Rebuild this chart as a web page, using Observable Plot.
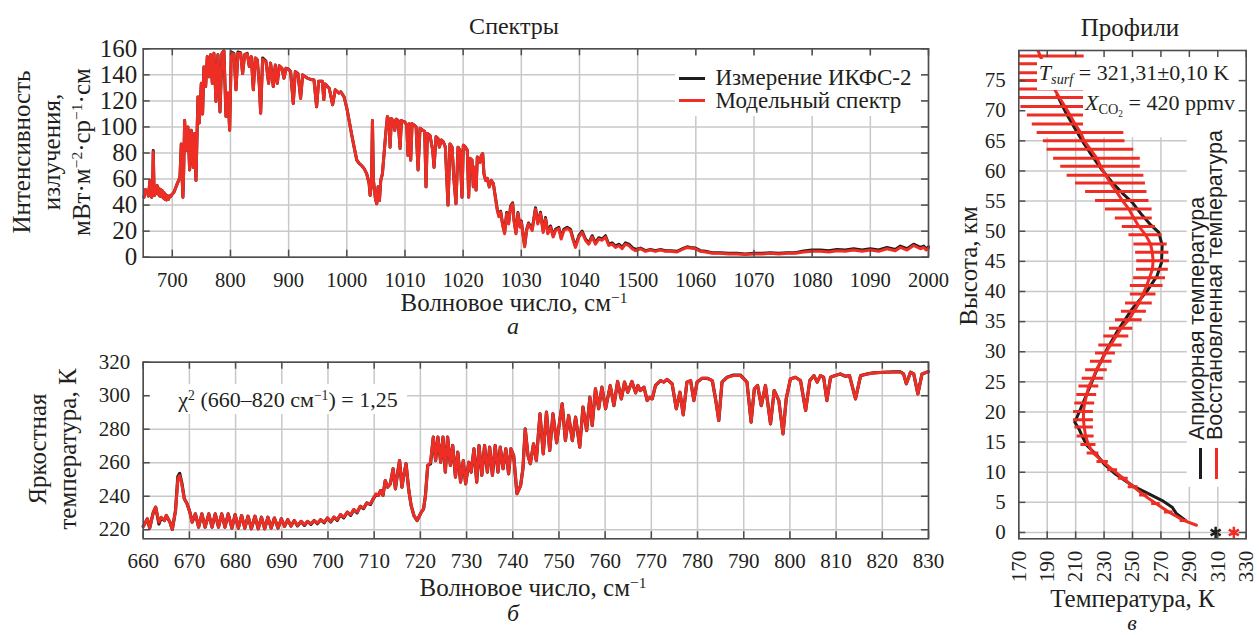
<!DOCTYPE html>
<html lang="ru">
<head>
<meta charset="utf-8">
<script src="https://cdn.jsdelivr.net/npm/d3@7"></script>
<script src="https://cdn.jsdelivr.net/npm/@observablehq/plot@0.6"></script>
<style>
html,body{margin:0;padding:0;background:#fff;}
#root{position:relative;width:1259px;height:635px;overflow:hidden;background:#fff;font-family:"Liberation Serif","Times New Roman",serif;color:#231f20;}
#root svg{position:absolute;}
.t{position:absolute;white-space:nowrap;line-height:1;}
.t sup{font-size:0.62em;position:relative;top:-0.5em;vertical-align:baseline;line-height:0;}
.t sub{font-size:0.65em;position:relative;top:0.32em;vertical-align:baseline;line-height:0;}
.box{position:absolute;background:#fff;}
.sw{position:absolute;}
</style>
</head>
<body>
<div id="root"></div>
<script>
// ---------------- Panel а: spectra ----------------
const spectrumWavenumber = [
651.3,654,657,659,661.6,662.5,664.5,666,667.3,668.5,
669.6,671,672.5,674,675.5,677,678.5,680,681.5,683,
684.5,686,687.5,689,690.5,692,693.5,695,697,699,
701,703,705.5,708.6,711,713.2,715.5,716.8,718.3,719.6,
721.2,722.8,724.6,726.9,729.8,732.7,736.1,738.4,740.7,744.1,
746.4,749.9,752.1,754.4,757.3,760.2,763,765.9,768.8,771.6,
775.1,778.5,782,785.4,788.8,792.3,795.7,798.6,801.4,806,
809.5,812.9,817.5,820.9,824.4,828.9,832.4,835.8,839.3,842.7,
846.1,849.6,851.9,855.3,861,865.6,869,873.6,877.1,880.5,
884,888.5,892,895.4,899.4,903.4,908,911.5,916,920.6,
924.1,928.7,932.1,937.8,943.6,948.1,951.6,957.9,960.5,962.5,
964.2,969.9,975.6,980.2,986.5,989.7,995.4,
1000,1004,1008,1012.6,1017.2,1021.2,1025.2,1029.8,1034.3,1038.4,
1040.1,1042.4,1044.1,1045.8,1049.2,1051.5,1053.8,1056.1,1058.4,1061.2,
1064.1,1067,1069.8,1072.7,1074.4,1076.7,1080.1,1082.4,1084.7,1088.2,
1091.6,1093.9,1097.3,1099.6,1103,1105.3,1107.6,1109.9,1112.2,1115.6,
1119.1,1122.5,1125.9,1130.5,1133.9,1136.2,1138.5,1143.1,1147.7,1150,
1153.4,1156.8,1159.1,1162.6,1166,1169.4,1174,1177.4,1180.9,1184.3,
1187.7,1191.2,1194.6,1198,1200.3,1203.8,1207.2,1209.5,1211.8,1215.2,
1217.5,1219.8,1222.2,1224.4,1229,1231.3,1233.6,1235.8,1238.7,1241.6,
1245,1248.4,1251.9,1255.3,1258.7,1261.6,1264.5,1267.9,1271.3,1274.8,
1278.2,1281.6,1285.1,1287.4,1290.8,1294.2,1297.7,1300,1303.4,1305.7,
1309.2,1312.5,
1318.7,1324.4,1328.4,1333,1337.6,1341.6,1345.6,1350.2,1354.8,1358.8,
1364.5,1368.5,1373.1,1378.8,1384.5,1389.1,1393.1,1398.9,1404.6,1410.3,
1416,1421.8,1427.5,1433.2,1438.9,1444.7,1450.4,1456.1,1461.9,1467.6,
1473.3,1479,1484.8,1490.5,1496.2,1504.8,1513.4,1522,1530.6,1539.2,
1547.8,1556.3,1567.8,1579.3,1585,1590.7,1599.3,1607.9,1616.5,1628,
1642.2,1656.6,1670.9,1685.2,1699.5,1713.8,1728.2,1742.5,1756.8,1771.1,
1785.4,1799.7,1814.1,1828.4,1842.7,1857,1871.3,1885.6,1900,1914.3,
1928.6,1942.9,1951.5,1963,1974.4,1985.9,1992,1996,2000
];
// Model spectrum (red), mW·m^-2·sr^-1·cm
const spectrumModel = [
46,52,50,47,59,50,46,48,81,55,
47.5,54,49,55,48.5,53,47,52,46.5,51,
45.5,49.5,44.5,48,44,47,44.5,47,46.5,48,
49,50,53,56.5,59,61.6,87,62,46,66,
105,90,82,100,67,97.5,69,95,59,123,
103,133.5,110,146,131,154,138.5,155.5,133.5,156.5,
119.5,155.5,111.5,156.5,158,108,126,97.5,156.5,156,
128.5,156.5,156.5,141,155.5,156,146.5,154,128.5,153,
151.5,132.5,110.5,152,150,133.5,149,131,147.5,133.5,
147,145,137.5,145,144,142.5,118,142.5,141,122,
140,138.5,137.5,136.5,136,115.5,135,135,121,133,
132.5,129.5,117,128.5,126,127,123,
114.5,105,95,84.5,74.5,72,70.5,68,64,56.5,
47.5,56.5,105,59,45,41,54,43.5,59,64,
79.5,95,108,105,84.5,106.5,104,97.5,106,105,
83.5,105,104,104,101.5,78,102.5,74.5,102.5,101.5,
100,67,99,97.5,96.5,54,95,93.5,82,69,
92.5,91,84.5,90,88.5,84.5,40,87,84.5,59,
41,84.5,82,46,86,84.5,82,46,76,74.5,
54,69,51.5,77,73,78,79.5,64,59,60.5,
54,59,56.5,46,36,31,34.5,24.5,18,33.5,
25.5,38.5,41,28,18,33.5,23,27,15.5,8,
20.5,25.5,
20.5,37,25.5,33.5,19,29.5,18,23,15.5,20.5,
22,14,20.5,22,20.5,13,7.5,15.5,19,13,
10,15.5,10,14,13,15.5,9,10,7.5,9,
6.5,10,9,6.5,5,6.5,4.5,5.5,4.5,5.5,
4.5,4.5,4,6.5,7.5,7,6.5,4.5,4,3,
3,2.5,2.5,2,2.5,2.5,3,2.5,3,3,
4,4.5,4.5,4,5,4.5,5.5,4.5,5.5,4.5,
6.5,5,7.5,5.5,9,6.5,7.5,5.5,7
];
// IKFS-2 measurement (black)
const spectrumMeasured = [
46,52,50,47,59,50,46,48,82,55,
47.5,54,49,55,48.5,53,47,52,46.5,51,
45.5,49.5,44.5,48,44,47,44.5,47,46.5,48,
49,50,53,56.5,59,61.6,87,62,46,66,
105,90,82,100,67,97.5,69,95,59,123,
103,133.5,110,146,131,154,138.5,155.5,133.5,156.5,
119.5,155.5,111.5,156.5,158.5,108,126,97.5,157.5,156.5,
128.5,157.5,157,141,155.5,156.5,146.5,154,128.5,153,
151.5,132.5,110.5,153,150.5,133.5,149,131,147.5,133.5,
147,145,137.5,145,144.5,142.5,118,142.5,141,122,
140,138.5,137.5,136.5,136,115.5,135,135,121,133,
132.5,129.5,117,128.5,126,127,123,
114.5,105,95,84.5,74.5,72,70.5,68,64,56.5,
47.5,56.5,105,59,45,41,54,43.5,59,64,
79.5,95,108,105,84.5,106.5,104,97.5,106,105,
83.5,105,104,104,101.5,78,102.5,74.5,102.5,101.5,
100,67,99,97.5,96.5,54,95,93.5,82,69,
92.5,91,84.5,90,88.5,84.5,40,87,84.5,59,
41,84.5,82,46,86,84.5,82,46,76,74.5,
54,69,51.5,77,73,78,79.5,64,59,60.5,
54,59,56.5,46.8,36.8,31.8,35.3,25.3,18.8,34.3,
26.3,39.3,41.8,28.8,18.8,34.3,23.8,27.8,16.3,8.8,
21.3,26.3,
21.5,38,26.5,34.5,20,30.5,19,24,16.5,21.5,
23,15,21.5,23,21.5,14,8.5,16.5,20,14,
11,16.5,11,15,14,16.5,10,11,8.5,10,
7.5,11,10,7.5,6,7,5,6,5,6,
5,5,4.5,7,8,7.5,7,5,4.5,3.5,
3.5,3,3,2.5,3,3,3.5,3,3.5,3.5,
4.8,5.5,5.5,5,6,5.5,6.5,5.5,6.5,5.5,
7.5,6,8.5,6.5,10,7.5,8.5,6.5,8
];
const spectrumTickValues = [700,800,900,1000,1100,1200,1300,1400,1500,1600,1700,1800,1900,2000];
const spectrumTickLabels = ["700","800","900","1000","1010","1020","1030","1040","1500","1060","1070","1080","1090","2000"];
const spectrumIntensityTicks = [0,20,40,60,80,100,120,140,160];

// ---------------- Panel б: brightness temperature ----------------
const btWavenumber = [
660.0,660.9,661.4,662.2,662.7,663.4,663.9,664.6,665.0,665.8,
666.3,667.0,667.5,667.9,668.4,668.9,669.5,670.1,670.6,671.3,
672.0,672.7,673.4,674.2,674.9,675.6,676.3,677.0,677.7,678.4,
679.2,679.9,680.6,681.3,682.0,682.7,683.4,684.2,684.9,685.6,
686.3,687.0,687.7,688.4,689.2,689.9,690.6,691.3,692.0,692.7,
693.4,694.2,694.9,695.6,696.3,697.0,697.7,698.4,699.2,699.9,
700.6,701.3,702.0,702.7,703.4,704.2,704.9,705.6,706.3,707.0,
707.7,708.4,709.2,709.8,710.4,710.9,711.4,711.9,712.4,712.9,
713.5,714.1,714.6,715.1,715.5,716.0,716.4,716.9,717.5,718.0,
718.6,719.3,720.2,720.7,721.1,721.6,722.2,722.8,723.3,723.8,
724.4,724.9,725.4,725.9,726.5,727.0,727.6,728.1,728.7,729.3,
729.8,730.5,731.0,731.6,732.2,732.7,733.3,733.9,734.5,735.0,
735.6,736.2,736.8,737.3,737.9,738.5,739.1,739.6,740.2,740.9,
741.7,742.2,742.7,743.3,743.8,744.5,745.1,745.9,746.6,747.3,
748.0,748.7,749.5,750.7,751.4,752.1,752.9,753.6,754.5,755.2,
756.0,756.7,757.2,757.9,758.6,759.3,760.1,761.1,761.9,762.7,
763.5,764.2,764.9,765.8,766.6,767.1,767.6,768.4,769.1,769.7,
770.2,770.9,772.0,772.7,773.4,774.5,775.4,776.2,776.9,777.7,
778.5,779.2,779.9,781.0,782.1,783.2,783.9,784.6,785.3,786.4,
787.8,789.3,790.7,791.6,792.3,793.0,793.8,794.7,795.8,796.6,
797.6,798.5,799.2,800.1,801.2,802.3,803.4,804.3,805.2,805.9,
806.6,807.3,808.0,808.8,809.8,810.9,812.0,812.9,814.2,815.3,
816.7,818.1,820.3,822.5,823.9,824.6,825.2,826.1,826.8,827.7,
828.6,830.0
];
const btModel = [
222,226.5,221,230.5,233.5,224.5,227.5,225.5,228.5,224.5,
220.2,231.5,250.4,252.4,246.4,238.5,235.5,230.5,224.6,229.5,
221.6,229.5,221.6,229.5,221.6,229.5,221.6,229.5,221.6,229.5,
221.0,229.0,221.0,228.5,221.0,228.1,220.6,228.1,220.6,227.5,
220.6,227.5,221.0,227.0,221.0,226.5,222.0,226.0,222.2,225.5,
222.6,225.0,223.0,225.0,223.6,225.5,224.0,226.0,224.6,227.0,
225.0,227.5,226.0,229.0,227.5,230.5,229.0,232.0,230.5,234.0,
233.0,236.0,235.5,238.5,241.5,240.5,243.4,240.5,249.4,245.4,
247.4,256.4,244.4,254.4,261.3,245.4,252.4,259.4,243.4,234.5,
228.5,225.5,230.5,232.5,240.5,258.4,260.3,275.3,261.3,275.3,
260.3,275.3,254.4,275.3,258.4,270.3,251.4,266.3,248.4,261.3,
247.4,260.3,254.4,268.3,248.4,270.3,252.4,270.3,254.4,269.3,
252.4,270.3,254.4,269.3,256.4,268.3,253.4,268.3,264.3,241.5,
246.4,256.4,280.2,264.3,259.4,271.3,261.3,289.2,265.3,290.2,
267.3,289.2,271.9,295.2,273.2,288.2,273.2,287.2,269.3,293.2,
279.2,299.1,282.2,304.1,292.2,305.1,292.2,306.1,294.1,308.5,
298.1,308.1,302.1,308.5,301.7,306.1,303.1,305.1,297.1,299.1,
298.1,306.1,309.0,308.1,309.7,307.1,292.2,302.1,288.6,308.1,
309.0,297.1,308.1,310.4,310.4,309.0,298.1,285.2,308.1,311.0,
312.0,312.0,308.1,284.2,304.1,306.1,294.1,306.1,283.2,303.1,
297.1,277.2,298.1,310.0,311.0,309.0,291.2,309.0,312.0,308.1,
312.0,311.0,297.1,311.0,312.0,313.0,311.6,312.0,298.1,312.0,
313.0,313.6,314.0,314.0,314.0,313.0,307.1,314.0,313.0,301.1,
313.0,314.4
];
const btMeasured = [
222,226.5,221,230.5,233.5,223.5,227,225.5,228.5,224.5,
220.2,231.5,251.8,253.6,247.4,238.5,235.5,230.5,224.6,229.5,
221.6,229.5,221.6,229.5,221.6,229.5,221.6,229.5,221.6,229.5,
221.0,229.0,221.0,228.5,221.0,228.1,220.6,228.1,220.6,227.5,
220.6,227.5,221.0,227.0,221.0,226.5,222.0,226.0,222.2,225.5,
222.3,225.0,222.6,225.0,223.2,225.5,223.6,226.0,224.2,227.0,
224.6,227.5,225.6,229.0,227.1,230.5,228.6,232.0,230.1,234.0,
232.6,236.0,235.1,238.5,241.0,240.5,243.4,240.5,249.4,245.4,
247.4,256.4,244.4,254.4,261.3,245.4,252.4,259.4,243.4,234.5,
228.5,225.5,230.5,232.5,240.5,258.4,259.3,275.3,261.3,275.3,
260.3,275.3,254.4,275.3,258.4,270.3,251.4,266.3,248.4,261.3,
247.4,260.3,254.4,268.3,248.4,270.3,252.4,270.3,254.4,269.3,
252.4,270.3,254.4,269.3,256.4,268.3,253.4,268.3,264.3,241.5,
246.4,256.4,280.2,264.3,259.4,271.3,261.3,289.2,265.3,290.2,
267.3,289.2,271.9,295.2,273.2,288.2,273.2,287.2,269.3,293.2,
279.2,299.1,282.2,304.1,292.2,305.1,292.2,306.1,294.1,308.5,
298.1,308.1,302.1,308.5,301.7,306.1,303.1,305.1,297.1,299.1,
298.1,306.1,309.0,308.1,309.7,307.1,292.2,302.1,288.6,308.1,
309.0,297.1,308.1,310.4,310.4,309.0,298.1,285.2,308.1,311.0,
312.3,312.3,308.1,284.2,304.1,306.1,294.1,306.1,283.2,303.1,
297.1,277.2,298.1,310.0,311.0,309.0,291.2,309.0,312.0,308.1,
312.0,311.0,297.1,311.0,312.0,313.0,311.6,312.0,298.1,312.0,
313.0,313.6,314.0,314.3,314.3,313.0,307.1,314.0,313.0,301.1,
313.0,314.4
];
const btTickValues = [660,670,680,690,700,710,720,730,740,750,760,770,780,790,800,810,820,830];
const btTempTicks = [220,240,260,280,300,320];

// ---------------- Panel в: temperature profiles ----------------
const retrievedAltitude = [80.3,79.1,77.8,76.3,75.0,73.6,72.2,70.7,69.3,67.8,
66.4,65.0,63.6,62.1,60.8,59.3,58.0,56.6,55.1,53.7,
52.2,50.8,49.4,47.9,46.5,45.1,43.7,42.3,41.0,39.6,
38.1,36.7,35.3,33.9,32.6,31.1,29.8,28.4,27.0,25.6,
24.3,22.9,21.5,20.1,18.7,17.5,16.0,14.6,13.2,11.8,
10.4,9.0,7.6,6.2,4.8,3.4,2.0,1.2];
const retrievedTemperature = [183,185,187.5,190,192,195,198.5,202.5,206,209.5,
213.4,216,220.4,225,227.5,231,234.5,238.6,242.8,247.4,
250.9,254.5,259.2,262.7,263.9,264.5,264,262,260,257.5,
254.5,251,247.4,242,238.6,234.5,231,228,224.6,222.2,
219.3,217.8,216.4,215.5,215.5,216,217,219,222.2,229,
236,243.5,250.5,258,266.5,275.5,286,295];
const retrievedError = [0,31,31,31,31,31,31,31,30,30,
30.5,28.7,30.5,30.5,28,27,24.6,21.6,18.8,16.4,
13,11.7,11.7,11.7,11.7,11.5,11.2,11.2,11.5,9,
9.4,8.8,9.4,8.2,8.8,8.2,7,7.6,7.6,7.6,
7,7,7,7,7,6.5,6,5.3,4.1,4,
3.5,3.5,3.5,3,3,3,2.5,0];
const aprioriAltitude = [72.6,69.5,66.9,64.5,62.5,60.2,58.1,56.3,54.8,52.6,
51.0,49.8,47.6,44.8,42.6,40.1,37.1,33.8,30.5,27.1,
23.8,20.5,18.3,17.2,15.8,14.4,12.8,11.4,9.7,7.8,
6.4,5.3,4.2,3.1,2.0];
const aprioriTemperature = [197,203.5,209.9,216,221.6,228.5,235.7,243,249.8,257,
263,268.5,270.9,270.4,267.3,260.3,249.8,240.4,232.2,225.1,
219.3,213.4,209.4,212.3,215,218.1,225.1,229.9,238,249.8,
261.5,270.9,277.9,281,287.3];
const surfaceApriori = [{T: 308.5, alt: 0}];
const surfaceRetrieved = [{T: 321.31, alt: 0}];
const profTempTicks = [170,190,210,230,250,270,290,310,330];
const profAltTicks = [0,5,10,15,20,25,30,35,40,45,50,55,60,65,70,75];

// ---------------- Styling ----------------
const INK = "#231f20", RED = "#ee2d24", BLACK = "#1d1d1b", GRID = "#c8c8c8", FRAME = "#4d4d4d";
const SERIF = "Liberation Serif, Times New Roman, serif";
const SANS = "Liberation Sans, Arial, sans-serif";
const root = document.getElementById("root");

// inward tick marks on all four sides of a frame of size fw × fh
function frameTicks(xt, yt, fw, fh) {
  const s = {stroke: FRAME, strokeWidth: 1.5};
  const len = 7;
  return [
    Plot.ruleX(xt, {x: d => d, insetTop: fh - len, ...s}),
    Plot.ruleX(xt, {x: d => d, insetBottom: fh - len, ...s}),
    Plot.ruleY(yt, {y: d => d, insetRight: fw - len, ...s}),
    Plot.ruleY(yt, {y: d => d, insetLeft: fw - len, ...s})
  ];
}
function place(svg, left, top) {
  svg.style.left = left + "px"; svg.style.top = top + "px";
  root.appendChild(svg);
}
function addText(html, cx, cy, o = {}) {
  const d = document.createElement("div");
  d.className = "t";
  d.innerHTML = html;
  d.style.left = cx + "px"; d.style.top = cy + "px";
  d.style.fontSize = (o.size || 24) + "px";
  if (o.family) d.style.fontFamily = o.family;
  if (o.italic) d.style.fontStyle = "italic";
  if (o.lh) d.style.lineHeight = o.lh + "px";
  d.style.textAlign = "center";
  if (o.anchor === "start") d.style.transform = "translate(0,-50%)";
  else if (o.anchor === "upFrom") { d.style.transformOrigin = "0 0"; d.style.transform = "rotate(-90deg) translate(0,-50%)"; }
  else d.style.transform = "translate(-50%,-50%)" + (o.rotate ? ` rotate(${o.rotate}deg)` : "");
  root.appendChild(d);
  return d;
}
function addBox(left, top, w, h) {
  const d = document.createElement("div");
  d.className = "box";
  Object.assign(d.style, {left: left + "px", top: top + "px", width: w + "px", height: h + "px"});
  root.appendChild(d);
}
function addSwatch(left, top, w, h, color) {
  const d = document.createElement("div");
  d.className = "sw";
  Object.assign(d.style, {left: left + "px", top: top + "px", width: w + "px", height: h + "px", background: color});
  root.appendChild(d);
}
const baseStyle = {background: "transparent", fontFamily: SERIF, color: INK, overflow: "visible"};
const gridStyle = {stroke: GRID, strokeOpacity: 1, strokeWidth: 1.5};
const tickText = {tickSize: 0, fill: INK, fontFamily: SERIF, label: null};

// ---------- Panel а ----------
const spec = spectrumWavenumber.map((w, i) => ({w, model: spectrumModel[i], meas: spectrumMeasured[i]}));
const labA = new Map(spectrumTickValues.map((v, i) => [v, spectrumTickLabels[i]]));
const plotA = Plot.plot({
  width: 960, height: 300,
  marginLeft: 142.7, marginRight: 32, marginTop: 48.3, marginBottom: 43.3,
  style: baseStyle,
  x: {domain: [650, 2000]},
  y: {domain: [0, 160]},
  marks: [
    Plot.gridX(spectrumTickValues, gridStyle),
    Plot.gridY(spectrumIntensityTicks, gridStyle),
    Plot.line(spec, {x: "w", y: "meas", stroke: BLACK, strokeWidth: 3}),
    Plot.line(spec, {x: "w", y: "model", stroke: RED, strokeWidth: 3}),
    Plot.frame({stroke: FRAME, strokeWidth: 1.6}),
    ...frameTicks(spectrumTickValues, spectrumIntensityTicks, 785.3, 208.4),
    Plot.axisX(spectrumTickValues, {...tickText, anchor: "bottom", tickPadding: 15, tickFormat: d => labA.get(d), fontSize: 20.5}),
    Plot.axisY(spectrumIntensityTicks, {...tickText, anchor: "left", tickPadding: 6, fontSize: 25})
  ]
});
place(plotA, 0, 0);

// ---------- Panel б ----------
const bt = btWavenumber.map((w, i) => ({w, model: btModel[i], meas: btMeasured[i]}));
const plotB = Plot.plot({
  width: 960, height: 305,
  marginLeft: 142.7, marginRight: 32, marginTop: 31.7, marginBottom: 96.7,
  style: baseStyle,
  x: {domain: [660, 830]},
  y: {domain: [214.6, 320]},
  marks: [
    Plot.gridX(btTickValues, gridStyle),
    Plot.gridY(btTempTicks, gridStyle),
    Plot.line(bt, {x: "w", y: "meas", stroke: BLACK, strokeWidth: 3.2}),
    Plot.line(bt, {x: "w", y: "model", stroke: RED, strokeWidth: 3}),
    Plot.frame({stroke: FRAME, strokeWidth: 1.6}),
    ...frameTicks(btTickValues, btTempTicks, 785.3, 176.6),
    Plot.axisX(btTickValues, {...tickText, anchor: "bottom", tickPadding: 14, fontSize: 21}),
    Plot.axisY(btTempTicks, {...tickText, anchor: "left", tickPadding: 13, fontSize: 21})
  ]
});
place(plotB, 0, 330);

// ---------- Panel в ----------
const retrieved = retrievedAltitude.map((a, i) => ({alt: a, T: retrievedTemperature[i], err: retrievedError[i]}));
const apriori = aprioriAltitude.map((a, i) => ({alt: a, T: aprioriTemperature[i]}));
const profTempDomain = [170, 330], profAltDomain = [-1.05, 80];
const gridTopKm = 65.5, legendBottomKm = 7.5, legendLeftK = 288.5; // grid hidden behind annotation/legend area
const plotC = Plot.plot({
  width: 299, height: 635,
  marginLeft: 58.3, marginRight: 13.3, marginTop: 50, marginBottom: 96.7,
  style: baseStyle,
  x: {domain: profTempDomain},
  y: {domain: profAltDomain},
  marks: [
    Plot.ruleX(profTempTicks, {x: d => d, y1: profAltDomain[0], y2: d => d < legendLeftK ? gridTopKm : legendBottomKm, ...gridStyle}),
    Plot.ruleY(profAltTicks.filter(d => d <= gridTopKm), {y: d => d, x1: profTempDomain[0], x2: d => d < legendBottomKm ? profTempDomain[1] : legendLeftK, ...gridStyle}),
    Plot.line(apriori, {x: "T", y: "alt", stroke: BLACK, strokeWidth: 3, clip: true}),
    Plot.ruleY(retrieved.filter(d => d.err > 0), {y: "alt", x1: d => d.T - d.err, x2: d => d.T + d.err, stroke: RED, strokeWidth: 3, clip: true}),
    Plot.line(retrieved, {x: "T", y: "alt", stroke: RED, strokeWidth: 3, clip: true}),
    Plot.dot(surfaceApriori, {x: "T", y: "alt", symbol: "asterisk", r: 5.5, stroke: BLACK, strokeWidth: 2.5}),
    Plot.dot(surfaceRetrieved, {x: "T", y: "alt", symbol: "asterisk", r: 5.5, stroke: RED, strokeWidth: 2.5}),
    Plot.frame({stroke: FRAME, strokeWidth: 1.6}),
    ...frameTicks(profTempTicks, profAltTicks, 227.4, 488.3),
    Plot.axisX(profTempTicks, {...tickText, anchor: "bottom", tickPadding: 12, tickRotate: -90, fontSize: 21}),
    Plot.axisY(profAltTicks, {...tickText, anchor: "left", tickPadding: 13, fontSize: 21})
  ]
});
place(plotC, 960, 0);

// ---------- Texts, legends, annotations ----------
// Panel а
addText("Спектры", 514, 26, {size: 24});
addText("Интенсивность<br>излучения,<br>мВт·м<sup>−2</sup>·ср<sup>−1</sup>·см", 51.5, 152, {size: 25, lh: 30, rotate: -90});
addText("Волновое число, см<sup>−1</sup>", 514, 302.5, {size: 25, lh: 22});
addText("а", 513, 326, {size: 24, italic: true, lh: 20});
addBox(675, 56, 246, 60);
addSwatch(679, 76.5, 26, 3, BLACK);
addSwatch(679, 99, 26, 3, RED);
addText("Измерение ИКФС-2", 715.5, 77.5, {size: 23, anchor: "start", lh: 20});
addText("Модельный спектр", 715.5, 100.5, {size: 23, anchor: "start", lh: 20});

// Panel б
addText("Яркостная<br>температура, К", 53, 449, {size: 25, lh: 30, rotate: -90});
addBox(150, 384, 257, 30);
addText("χ<sup>2</sup> (660–820 см<sup>−1</sup>) = 1,25", 288, 400, {size: 22});
addText("Волновое число, см<sup>−1</sup>", 533, 588, {size: 25, lh: 22});
addText("б", 513, 613, {size: 24, italic: true, lh: 20});

// Panel в
addText("Профили", 1130, 27, {size: 25});
addText("Высота, км", 967.5, 266, {size: 25, rotate: -90});
addText("Температура, К", 1132.5, 598.5, {size: 25, lh: 22});
addText("в", 1132, 623, {size: 22, italic: true, lh: 14});
addBox(1037, 59, 193, 31);
addText("<i>T</i><sub><i>surf</i></sub> = 321,31±0,10 K", 1134, 72.5, {size: 22});
addBox(1083, 90, 153, 37);
addText("<i>X</i><sub>CO<sub>2</sub></sub> = 420 ppmv", 1160, 102.5, {size: 22});
addText("Априорная температура", 1198, 440, {size: 21.5, family: SANS, anchor: "upFrom"});
addText("Восстановленная температура", 1216, 440, {size: 21.5, family: SANS, anchor: "upFrom"});
addSwatch(1198.5, 448, 3, 31, BLACK);
addSwatch(1215.2, 448, 3, 31, RED);
</script>
</body>
</html>
